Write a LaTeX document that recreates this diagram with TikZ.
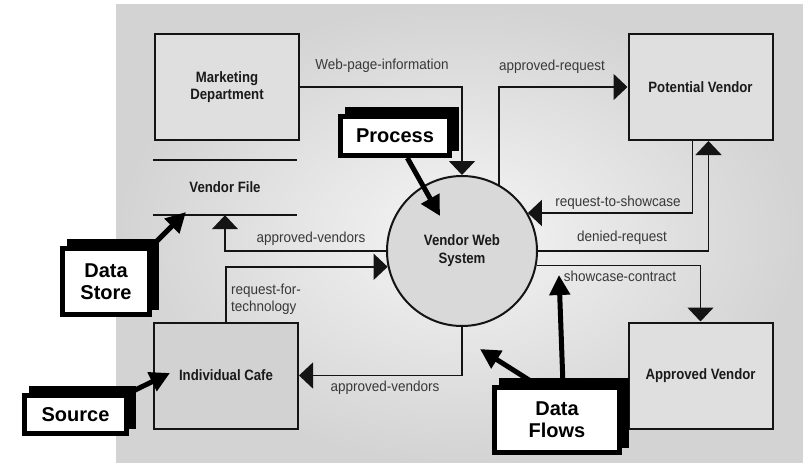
\documentclass[tikz,border=0pt]{standalone}
\usepackage{fontspec}
\newfontfamily\condfont[FakeStretch=0.93]{Liberation Sans}
\newfontfamily\headfont[FakeStretch=0.88]{Liberation Sans}
\newfontfamily\callfont{Liberation Sans}
\usetikzlibrary{arrows.meta,shadows}

\pgfdeclarelayer{bg}
\pgfdeclarelayer{pointers}
\pgfdeclarelayer{top}
\pgfsetlayers{bg,main,pointers,top}

\definecolor{inkline}{HTML}{141414}
\definecolor{titleink}{HTML}{1A1A1A}
\definecolor{labelink}{HTML}{383838}
\definecolor{boxfill}{HTML}{DFDFDF}
\definecolor{cafefill}{HTML}{D2D2D2}
\definecolor{procfill}{HTML}{D9D9D9}
\definecolor{bglight}{HTML}{F5F5F5}
\definecolor{bgdark}{HTML}{D3D3D3}

\begin{document}
\begin{tikzpicture}[x=1pt,y=-1pt,
  entity/.style={draw=inkline, line width=2pt, fill=boxfill,
    minimum width=144pt, minimum height=106pt, inner sep=0pt, align=center,
    font=\headfont\bfseries\fontsize{15}{17}\selectfont, text=titleink},
  proc/.style={circle, draw=inkline, line width=2pt, fill=procfill,
    minimum size=150pt, inner sep=0pt, align=center,
    font=\headfont\bfseries\fontsize{15}{18}\selectfont, text=titleink},
  store/.style={minimum width=144pt, minimum height=55pt, inner sep=0pt,
    font=\headfont\bfseries\fontsize{15}{17}\selectfont, text=titleink},
  storeline/.style={draw=inkline, line width=2pt},
  lbl/.style={font=\condfont\fontsize{14.5}{17}\selectfont, text=labelink, inner sep=0pt},
  flow/.style={draw=inkline, line width=1.6pt, -{Triangle[length=14pt,width=26pt]}},
  callout/.style={draw=black, line width=5pt, fill=white, inner sep=0pt, align=center,
    font=\callfont\bfseries\fontsize{20}{22}\selectfont,
    general shadow={fill=black, draw=black, line width=5pt,
      shadow xshift=7pt, shadow yshift=7pt}},
  pointer/.style={draw=black, line width=5pt, -{Triangle[length=20pt,width=20pt]}}
]
\useasboundingbox (0,0) rectangle (803,463);

% backdrop panel with soft vignette
\begin{pgfonlayer}{bg}
  \fill[white] (0,0) rectangle (803,463);
  \shade[inner color=bglight, outer color=bgdark] (116,4) rectangle (803,463);
\end{pgfonlayer}

% external entities, process and data store
\node[entity] (mkt) at (227,87) {Marketing\\Department};
\node[entity] (pv) at (700.5,87) {Potential Vendor};
\node[entity, fill=cafefill] (iv) at (226,375.5) {Individual Cafe};
\node[entity] (av) at (700.5,375.5) {Approved Vendor};
\node[proc] (vws) at (462,251) {Vendor Web\\System};
\node[store] (vf) at (225,187.5) {Vendor File};
\draw[storeline] (vf.north west) -- (vf.north east);
\draw[storeline] (vf.south west) -- (vf.south east);

% data flows
\draw[flow] (mkt.east) -| (vws.north);
\draw[flow] (vws.61) |- (pv.west);
\draw[flow] ([xshift=-8pt]pv.south) |- (vws.30);
\draw[flow] (vws.east) -| ([xshift=8pt]pv.south);
\draw[flow] (vws.-11) -| (av.north);
\draw[flow] (vws.south) |- (iv.east);
\draw[flow] (vws.west) -| (vf.south);
\draw[flow] (iv.north) |- (vws.192);

% flow labels
\node[lbl] (tWeb) at (382,66) {Web-page-information};
\node[lbl] (tAppReq) at (552,67) {approved-request};
\node[lbl] (tReqShow) at (618,203) {request-to-showcase};
\node[lbl] (tDenied) at (622,238) {denied-request};
\node[lbl] (tContract) at (620,276) {showcase-contract};
\node[lbl] (tAppV1) at (311,239) {approved-vendors};
\node[lbl, anchor=west, align=left] (tReqTech) at (231,299) {request-for-\\technology};
\node[lbl] (tAppV2) at (385,388) {approved-vendors};

% callout boxes
\begin{pgfonlayer}{top}
  \node[callout, minimum width=109pt, minimum height=39pt] (cProc) at (395,136) {Process};
  \node[callout, minimum width=87pt, minimum height=66pt] (cStore) at (106,281.5) {Data\\Store};
  \node[callout, minimum width=102pt, minimum height=38pt] (cSrc) at (75.5,414.5) {Source};
  \node[callout, minimum width=125pt, minimum height=65pt] (cFlow) at (557,420) {Data\\Flows};
\end{pgfonlayer}

% callout pointers
\coordinate (pProc) at (440,216);
\coordinate (pStore) at (186,212);
\coordinate (pSrc) at (170,373);
\coordinate (pFlowA) at (480,349);
\coordinate (pFlowB) at (559,275);
\begin{pgfonlayer}{pointers}
  \draw[pointer] (cProc) -- (pProc);
  \draw[pointer] (cStore.north east) -- (pStore);
  \draw[pointer] (cSrc.north east) -- (pSrc);
  \draw[pointer] ([xshift=-20pt]cFlow.north) -- (pFlowA);
  \draw[pointer] ([xshift=6pt]cFlow.north) -- (pFlowB);
\end{pgfonlayer}
\end{tikzpicture}
\end{document}
